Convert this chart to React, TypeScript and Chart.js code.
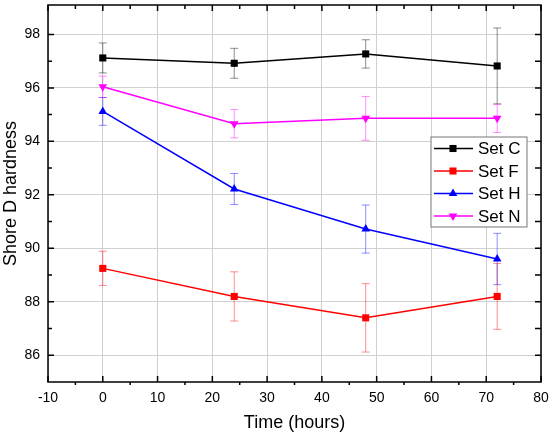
import { useEffect, useRef } from "react"
import { Chart, registerables } from "chart.js"

Chart.register(...registerables)

const hours = [0, 24, 48, 72]

const setC = [97.12, 96.92, 97.27, 96.82]
const errC = [0.56, 0.56, 0.53, 1.42]
const setF = [89.25, 88.2, 87.4, 88.2]
const errF = [0.64, 0.92, 1.28, 1.23]
const setH = [95.12, 92.22, 90.72, 89.6]
const errH = [0.52, 0.58, 0.9, 0.96]
const setN = [96.04, 94.66, 94.86, 94.86]
const errN = [0.4, 0.53, 0.82, 0.53]

const xTicks = [-10, 0, 10, 20, 30, 40, 50, 60, 70, 80]
const xMinorTicks = [-5, 5, 15, 25, 35, 45, 55, 65, 75]
const yTicks = [86, 88, 90, 92, 94, 96, 98]
const yMinorTicks = [87, 89, 91, 93, 95, 97]

const FONT = "'Liberation Sans', Arial, sans-serif"

const series = [
  { label: "Set C", values: setC, errors: errC, color: "#000000", errColor: "rgba(0,0,0,0.45)", style: "rect", rotation: 0 },
  { label: "Set F", values: setF, errors: errF, color: "#ff0000", errColor: "rgba(255,0,0,0.45)", style: "rect", rotation: 0 },
  { label: "Set H", values: setH, errors: errH, color: "#0000ff", errColor: "rgba(0,0,255,0.45)", style: "triangle", rotation: 0 },
  { label: "Set N", values: setN, errors: errN, color: "#ff00ff", errColor: "rgba(255,0,255,0.45)", style: "triangle", rotation: 180 },
]

// small marker for the legend, same shapes as chart.js points
function marker(ctx: CanvasRenderingContext2D, style: string, rotation: number, x: number, y: number, r: number) {
  ctx.beginPath()
  if (style === "rect") {
    const s = Math.SQRT1_2 * r
    ctx.rect(x - s, y - s, 2 * s, 2 * s)
  } else {
    const dir = rotation === 180 ? -1 : 1
    const h = r * 1.5
    ctx.moveTo(x, y - dir * r)
    ctx.lineTo(x - r * 0.866, y + dir * (h - r))
    ctx.lineTo(x + r * 0.866, y + dir * (h - r))
    ctx.closePath()
  }
  ctx.fill()
}

// error bars drawn under the lines
const errorBars = {
  id: "errorBars",
  beforeDatasetsDraw(chart: any) {
    const { ctx, scales } = chart
    ctx.save()
    ctx.lineWidth = 1
    series.forEach((s) => {
      ctx.strokeStyle = s.errColor
      hours.forEach((h, i) => {
        const x = scales.x.getPixelForValue(h)
        const yTop = scales.y.getPixelForValue(s.values[i] + s.errors[i])
        const yBot = scales.y.getPixelForValue(s.values[i] - s.errors[i])
        ctx.beginPath()
        ctx.moveTo(x, yTop)
        ctx.lineTo(x, yBot)
        ctx.moveTo(x - 4, yTop)
        ctx.lineTo(x + 4, yTop)
        ctx.moveTo(x - 4, yBot)
        ctx.lineTo(x + 4, yBot)
        ctx.stroke()
      })
    })
    ctx.restore()
  },
}

// frame with Origin-style ticks
const frame = {
  id: "frame",
  afterDatasetsDraw(chart: any) {
    const { ctx, chartArea, scales } = chart
    const { left, right, top, bottom } = chartArea
    ctx.save()
    ctx.strokeStyle = "#000"
    ctx.lineWidth = 1.5
    ctx.strokeRect(left, top, right - left, bottom - top)
    ctx.beginPath()
    xTicks.forEach((v) => {
      const x = scales.x.getPixelForValue(v)
      ctx.moveTo(x, bottom)
      ctx.lineTo(x, bottom - 6)
      ctx.moveTo(x, top)
      ctx.lineTo(x, top + 6)
    })
    xMinorTicks.forEach((v) => {
      const x = scales.x.getPixelForValue(v)
      ctx.moveTo(x, bottom)
      ctx.lineTo(x, bottom + 3)
      ctx.moveTo(x, top)
      ctx.lineTo(x, top + 4)
    })
    yTicks.forEach((v) => {
      const y = scales.y.getPixelForValue(v)
      ctx.moveTo(left, y)
      ctx.lineTo(left + 6, y)
      ctx.moveTo(right, y)
      ctx.lineTo(right - 6, y)
    })
    yMinorTicks.forEach((v) => {
      const y = scales.y.getPixelForValue(v)
      ctx.moveTo(left, y)
      ctx.lineTo(left + 4, y)
      ctx.moveTo(right, y)
      ctx.lineTo(right - 6, y)
    })
    ctx.stroke()
    ctx.restore()
  },
}

const legendBox = {
  id: "legendBox",
  afterDraw(chart: any) {
    const { ctx, chartArea } = chart
    const x0 = chartArea.right - 110
    const y0 = chartArea.top + 132
    ctx.save()
    ctx.fillStyle = "#fff"
    ctx.fillRect(x0, y0, 96, 90)
    ctx.strokeStyle = "#777"
    ctx.lineWidth = 1
    ctx.strokeRect(x0, y0, 96, 90)
    ctx.font = `17px ${FONT}`
    ctx.textBaseline = "middle"
    series.forEach((s, i) => {
      const y = y0 + 11.5 + i * 22.5
      ctx.strokeStyle = s.color
      ctx.lineWidth = 1.5
      ctx.beginPath()
      ctx.moveTo(x0 + 3, y)
      ctx.lineTo(x0 + 42, y)
      ctx.stroke()
      ctx.fillStyle = s.color
      marker(ctx, s.style, s.rotation, x0 + 22, y, 5)
      ctx.fillStyle = "#000"
      ctx.fillText(s.label, x0 + 47, y + 1)
    })
    ctx.restore()
  },
}

export default function App() {
  const canvasRef = useRef<HTMLCanvasElement | null>(null)
  const chartRef = useRef<Chart | null>(null)

  useEffect(() => {
    document.body.style.margin = "0"
    if (!canvasRef.current) return
    if (chartRef.current) chartRef.current.destroy()
    const ctx = canvasRef.current.getContext("2d")
    if (!ctx) return

    chartRef.current = new Chart(ctx, {
      type: "line",
      data: {
        datasets: series.map((s) => ({
          label: s.label,
          data: hours.map((h, i) => ({ x: h, y: s.values[i] })),
          borderColor: s.color,
          backgroundColor: s.color,
          borderWidth: 1.5,
          pointStyle: s.style as any,
          pointRotation: s.rotation,
          pointRadius: 5,
          pointBorderWidth: 0,
          pointBackgroundColor: s.color,
          tension: 0,
          fill: false,
        })),
      },
      options: {
        animation: false,
        responsive: false,
        layout: { autoPadding: false, padding: { top: 5, right: 9, left: 0, bottom: 0 } },
        plugins: { legend: { display: false }, tooltip: { enabled: false } },
        scales: {
          x: {
            type: "linear",
            min: -10,
            max: 80,
            afterBuildTicks: (scale: any) => {
              scale.ticks = xTicks.map((v) => ({ value: v }))
            },
            afterFit: (scale: any) => {
              scale.height = 54
              scale.paddingLeft = 0
              scale.paddingRight = 0
            },
            grid: { color: "#d0d0d0", lineWidth: 1, drawTicks: false },
            border: { display: false },
            ticks: { color: "#000", padding: 8, font: { family: FONT, size: 14 }, maxRotation: 0 },
            title: { display: true, text: "Time (hours)", color: "#000", font: { family: FONT, size: 18 }, padding: { top: 0, bottom: 2 } },
          },
          y: {
            type: "linear",
            min: 85,
            max: 99.1,
            afterBuildTicks: (scale: any) => {
              scale.ticks = yTicks.map((v) => ({ value: v }))
            },
            afterFit: (scale: any) => {
              scale.width = 48
              scale.paddingTop = 0
              scale.paddingBottom = 0
            },
            grid: { color: "#d0d0d0", lineWidth: 1, drawTicks: false },
            border: { display: false },
            ticks: { color: "#000", padding: 8, font: { family: FONT, size: 14 } },
            title: { display: true, text: "Shore D hardness", color: "#000", font: { family: FONT, size: 18 }, padding: { top: 0, bottom: 0 } },
          },
        },
      },
      plugins: [errorBars, frame, legendBox],
    })

    return () => {
      if (chartRef.current) {
        chartRef.current.destroy()
        chartRef.current = null
      }
    }
  }, [])

  return (
    <div style={{ width: 550, height: 436 }}>
      <canvas ref={canvasRef} width={550} height={436} />
    </div>
  )
}
